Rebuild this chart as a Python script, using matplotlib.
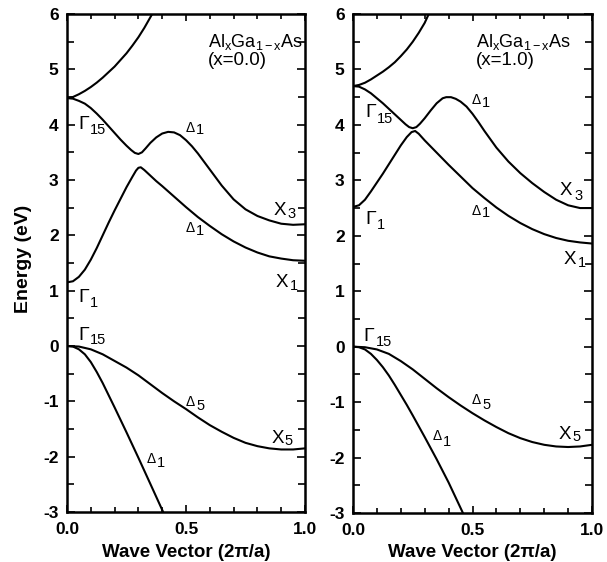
import matplotlib
matplotlib.use('Agg')
import matplotlib.pyplot as plt
from matplotlib.ticker import MultipleLocator, FormatStrFormatter

plt.rcParams['font.family'] = ['Liberation Sans', 'DejaVu Sans']
plt.rcParams['axes.unicode_minus'] = False
plt.rcParams['mathtext.fontset'] = 'custom'
plt.rcParams['mathtext.rm'] = 'Liberation Sans'
plt.rcParams['mathtext.it'] = 'Liberation Sans'

# ---------------- data: x = 0.0 (GaAs) ----------------
gaas_c3_k = [0, 0.025, 0.05, 0.075, 0.10, 0.125, 0.15, 0.175, 0.20, 0.225, 0.25,
             0.275, 0.30, 0.325, 0.358]
gaas_c3_E = [4.48, 4.50, 4.55, 4.61, 4.68, 4.76, 4.85, 4.95, 5.05, 5.17, 5.29,
             5.43, 5.58, 5.75, 6.0]

gaas_c2_k = [0, 0.025, 0.05, 0.075, 0.10, 0.125, 0.15, 0.175, 0.20, 0.225, 0.25,
             0.27, 0.285, 0.30, 0.315, 0.33, 0.35, 0.375, 0.40, 0.425, 0.45, 0.475,
             0.50, 0.525, 0.55, 0.60, 0.65, 0.70, 0.75, 0.80, 0.85, 0.90, 0.95, 1.0]
gaas_c2_E = [4.48, 4.47, 4.43, 4.38, 4.30, 4.20, 4.09, 3.97, 3.85, 3.73, 3.62,
             3.54, 3.49, 3.47, 3.50, 3.57, 3.67, 3.77, 3.84, 3.87, 3.86, 3.81,
             3.72, 3.61, 3.48, 3.19, 2.90, 2.65, 2.47, 2.35, 2.27, 2.21, 2.19, 2.20]

gaas_c1_k = [0, 0.025, 0.05, 0.075, 0.10, 0.125, 0.15, 0.175, 0.20, 0.225, 0.25,
             0.275, 0.29, 0.30, 0.31, 0.325, 0.35, 0.375, 0.40, 0.45, 0.50, 0.55,
             0.60, 0.65, 0.70, 0.75, 0.80, 0.85, 0.90, 0.95, 1.0]
gaas_c1_E = [1.15, 1.17, 1.25, 1.38, 1.56, 1.77, 2.00, 2.23, 2.45, 2.66, 2.87,
             3.06, 3.17, 3.22, 3.23, 3.18, 3.08, 2.98, 2.89, 2.70, 2.51, 2.33,
             2.17, 2.02, 1.89, 1.78, 1.69, 1.62, 1.58, 1.55, 1.54]

gaas_v5_k = [0, 0.05, 0.10, 0.15, 0.20, 0.25, 0.30, 0.35, 0.40, 0.45, 0.50, 0.55,
             0.60, 0.65, 0.70, 0.75, 0.80, 0.85, 0.90, 0.95, 1.0]
gaas_v5_E = [0, -0.01, -0.06, -0.15, -0.27, -0.39, -0.53, -0.69, -0.85, -1.00,
             -1.14, -1.29, -1.43, -1.55, -1.66, -1.75, -1.81, -1.85, -1.87, -1.87, -1.85]

gaas_v1_k = [0, 0.025, 0.05, 0.075, 0.10, 0.125, 0.15, 0.175, 0.20, 0.25, 0.30,
             0.35, 0.404]
gaas_v1_E = [0, -0.01, -0.06, -0.15, -0.29, -0.47, -0.67, -0.89, -1.11, -1.56,
             -2.02, -2.49, -3.0]

# ---------------- data: x = 1.0 (AlAs) ----------------
alas_c3_k = [0, 0.025, 0.05, 0.075, 0.10, 0.125, 0.15, 0.175, 0.20, 0.225, 0.25,
             0.275, 0.30, 0.317]
alas_c3_E = [4.70, 4.72, 4.76, 4.82, 4.89, 4.96, 5.04, 5.13, 5.24, 5.36, 5.50,
             5.66, 5.84, 6.0]

alas_c2_k = [0, 0.025, 0.05, 0.075, 0.10, 0.125, 0.15, 0.175, 0.20, 0.22, 0.235,
             0.25, 0.265, 0.28, 0.30, 0.325, 0.35, 0.375, 0.39, 0.41, 0.43, 0.45,
             0.475, 0.50, 0.525, 0.55, 0.60, 0.65, 0.70, 0.75, 0.80, 0.85, 0.90,
             0.95, 1.0]
alas_c2_E = [4.70, 4.69, 4.64, 4.57, 4.48, 4.39, 4.29, 4.19, 4.09, 4.01, 3.96,
             3.94, 3.96, 4.02, 4.12, 4.26, 4.39, 4.48, 4.50, 4.50, 4.47, 4.42,
             4.33, 4.20, 4.05, 3.89, 3.59, 3.34, 3.13, 2.95, 2.79, 2.65, 2.55,
             2.50, 2.50]

alas_c1_k = [0, 0.025, 0.05, 0.075, 0.10, 0.125, 0.15, 0.175, 0.20, 0.225, 0.245,
             0.26, 0.275, 0.30, 0.325, 0.35, 0.40, 0.45, 0.50, 0.55, 0.60, 0.65,
             0.70, 0.75, 0.80, 0.85, 0.90, 0.95, 1.0]
alas_c1_E = [2.52, 2.55, 2.65, 2.80, 2.96, 3.12, 3.29, 3.46, 3.63, 3.78, 3.87,
             3.89, 3.84, 3.72, 3.61, 3.50, 3.28, 3.07, 2.86, 2.68, 2.51, 2.36,
             2.23, 2.12, 2.03, 1.96, 1.91, 1.88, 1.86]

alas_v5_k = [0, 0.05, 0.10, 0.15, 0.20, 0.25, 0.30, 0.35, 0.40, 0.45, 0.50, 0.55,
             0.60, 0.65, 0.70, 0.75, 0.80, 0.85, 0.90, 0.95, 1.0]
alas_v5_E = [0, -0.01, -0.05, -0.13, -0.26, -0.41, -0.58, -0.75, -0.91, -1.06,
             -1.20, -1.33, -1.45, -1.56, -1.65, -1.72, -1.77, -1.80, -1.81, -1.80, -1.77]

alas_v1_k = [0, 0.025, 0.05, 0.075, 0.10, 0.125, 0.15, 0.175, 0.20, 0.225, 0.25,
             0.30, 0.35, 0.40, 0.46]
alas_v1_E = [0, -0.01, -0.05, -0.13, -0.24, -0.37, -0.52, -0.69, -0.87, -1.05,
             -1.24, -1.63, -2.03, -2.45, -3.0]

x_ticks = [0.0, 0.5, 1.0]
y_ticks = [-3, -2, -1, 0, 1, 2, 3, 4, 5, 6]

panels = [
    dict(title1=r'Al$_\mathregular{x}$Ga$_\mathregular{1-x}$As', title2='(x=0.0)',
         curves=[(gaas_c3_k, gaas_c3_E), (gaas_c2_k, gaas_c2_E), (gaas_c1_k, gaas_c1_E),
                 (gaas_v5_k, gaas_v5_E), (gaas_v1_k, gaas_v1_E)],
         tpos=(0.592, 5.40, 5.07),
         labels=[
             ('Γ', '15', 0.046, 3.93, 0.097, 3.83, 'G'),
             ('Δ', '1', 0.50, 3.866, 0.542, 3.83, 'D'),
             ('X', '3', 0.866, 2.365, 0.925, 2.31, 'X'),
             ('Δ', '1', 0.50, 2.06, 0.542, 2.00, 'D'),
             ('X', '1', 0.878, 1.06, 0.935, 1.01, 'X'),
             ('Γ', '1', 0.046, 0.79, 0.095, 0.70, 'G'),
             ('Γ', '15', 0.046, 0.105, 0.095, 0.033, 'G'),
             ('Δ', '5', 0.50, -1.09, 0.546, -1.16, 'D'),
             ('X', '5', 0.861, -1.76, 0.915, -1.79, 'X'),
             ('Δ', '1', 0.336, -2.12, 0.378, -2.19, 'D'),
         ]),
    dict(title1=r'Al$_\mathregular{x}$Ga$_\mathregular{1-x}$As', title2='(x=1.0)',
         curves=[(alas_c3_k, alas_c3_E), (alas_c2_k, alas_c2_E), (alas_c1_k, alas_c1_E),
                 (alas_v5_k, alas_v5_E), (alas_v1_k, alas_v1_E)],
         tpos=(0.515, 5.41, 5.08),
         labels=[
             ('Γ', '15', 0.05, 4.15, 0.10, 4.03, 'G'),
             ('Δ', '1', 0.497, 4.37, 0.538, 4.32, 'D'),
             ('X', '3', 0.866, 2.73, 0.925, 2.64, 'X'),
             ('Δ', '1', 0.497, 2.38, 0.538, 2.33, 'D'),
             ('Γ', '1', 0.05, 2.22, 0.099, 2.12, 'G'),
             ('X', '1', 0.879, 1.50, 0.94, 1.43, 'X'),
             ('Γ', '15', 0.042, 0.105, 0.096, 0.014, 'G'),
             ('Δ', '5', 0.497, -1.03, 0.543, -1.12, 'D'),
             ('X', '5', 0.862, -1.67, 0.918, -1.70, 'X'),
             ('Δ', '1', 0.333, -1.69, 0.378, -1.79, 'D'),
         ]),
]

W, H = 607, 562
fig = plt.figure(figsize=(W / 100, H / 100), dpi=100)
rects = [[67 / W, 50 / H, 238 / W, 498 / H], [353 / W, 49 / H, 239 / W, 499 / H]]

main_size = {'G': 14, 'D': 10, 'X': 13.5}
sub_size = {'G': 10.5, 'D': 10.5, 'X': 10.5}

for rect, p in zip(rects, panels):
    ax = fig.add_axes(rect)
    for k, E in p['curves']:
        ax.plot(k, E, color='black', lw=1.5, solid_joinstyle='round',
                solid_capstyle='round')
    ax.set_xlim(0, 1)
    ax.set_ylim(-3, 6)
    ax.set_xticks(x_ticks)
    ax.set_yticks(y_ticks)
    ax.xaxis.set_minor_locator(MultipleLocator(0.1))
    ax.yaxis.set_minor_locator(MultipleLocator(0.5))
    ax.xaxis.set_major_formatter(FormatStrFormatter('%.1f'))
    ax.yaxis.set_major_formatter(FormatStrFormatter('%d'))
    ax.tick_params(which='both', direction='in', top=True, right=True, width=1.2,
                   labelsize=12.5)
    ax.tick_params(axis='y', which='major', length=6, pad=6)
    ax.tick_params(axis='y', which='minor', length=5)
    ax.tick_params(axis='x', which='major', length=5, pad=7)
    ax.tick_params(axis='x', which='minor', length=3.5)
    for lbl in ax.get_xticklabels() + ax.get_yticklabels():
        lbl.set_fontweight('bold')
    for s in ax.spines.values():
        s.set_linewidth(1.8)
    tx, ty1, ty2 = p['tpos']
    ax.text(tx, ty1, p['title1'], fontsize=13, ha='left', va='baseline')
    ax.text(tx, ty2, p['title2'], fontsize=13.5, ha='left', va='baseline')
    for m, s, mx, my, sx, sy, kind in p['labels']:
        ax.text(mx, my, m, fontsize=main_size[kind], ha='left', va='baseline')
        ax.text(sx, sy, s, fontsize=sub_size[kind], ha='left', va='baseline')
    cx = rect[0] + rect[2] / 2
    fig.text(cx, 5 / H, 'Wave Vector (2π/a)', fontsize=13.5, fontweight='bold',
             ha='center', va='baseline')

fig.text(24 / W, 1 - 259 / H, 'Energy (eV)', fontsize=14, fontweight='bold',
         rotation=90, ha='center', va='center')

fig.savefig('out.png', dpi=100)
